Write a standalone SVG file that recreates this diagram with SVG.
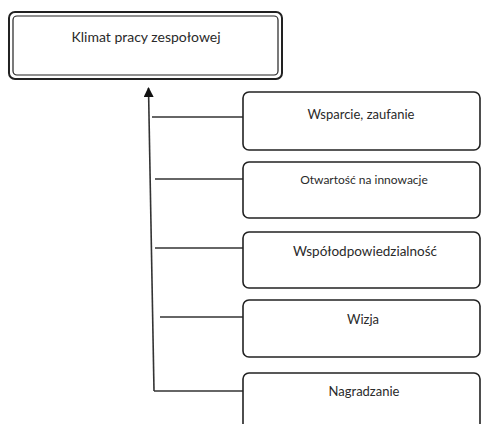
<svg xmlns="http://www.w3.org/2000/svg" width="481" height="424" viewBox="0 0 481 424">
<style>
.box{fill:#fff;stroke:#222;stroke-width:1.6}
.t{font-family:Lato,"Open Sans","Liberation Sans",sans-serif;fill:#2a2a2a;text-anchor:middle}
.ln{stroke:#333;stroke-width:1.6;fill:none}
</style>
<defs>
<marker id="ah" viewBox="0 0 10 10" refX="9" refY="5" markerWidth="10" markerHeight="10" markerUnits="userSpaceOnUse" orient="auto">
<path d="M0,0 L10,5 L0,10 z" fill="#111"/>
</marker>
</defs>
<rect width="481" height="424" fill="#fff"/>
<g id="top">
<rect x="9" y="12" width="273" height="67" rx="6" fill="#fff" stroke="#222" stroke-width="2"/>
<rect x="13" y="16" width="265" height="59" rx="4" fill="none" stroke="#222" stroke-width="1.2"/>
<text class="t" x="146" y="42" font-size="14">Klimat pracy zespołowej</text>
</g>
<g id="connectors">
<path class="ln" d="M154,391 L148.5,88" marker-end="url(#ah)"/>
<line class="ln" x1="152" y1="117" x2="243" y2="117"/>
<line class="ln" x1="155" y1="179" x2="243" y2="179"/>
<line class="ln" x1="155" y1="248" x2="243" y2="248"/>
<line class="ln" x1="160" y1="317" x2="243" y2="317"/>
<line class="ln" x1="154" y1="391" x2="243" y2="391"/>
</g>
<g id="n1">
<rect class="box" x="243" y="92" width="237" height="58" rx="6"/>
<text class="t" x="361" y="119" font-size="13">Wsparcie, zaufanie</text>
</g>
<g id="n2">
<rect class="box" x="243" y="162" width="237" height="56" rx="6"/>
<text class="t" x="364" y="184" font-size="12">Otwartość na innowacje</text>
</g>
<g id="n3">
<rect class="box" x="243" y="232" width="237" height="56" rx="6"/>
<text class="t" x="365" y="256" font-size="13.5">Współodpowiedzialność</text>
</g>
<g id="n4">
<rect class="box" x="243" y="300" width="237" height="57" rx="6"/>
<text class="t" x="363" y="324" font-size="13">Wizja</text>
</g>
<g id="n5">
<rect class="box" x="243" y="373" width="237" height="70" rx="6"/>
<text class="t" x="364" y="396" font-size="13">Nagradzanie</text>
</g>
</svg>
